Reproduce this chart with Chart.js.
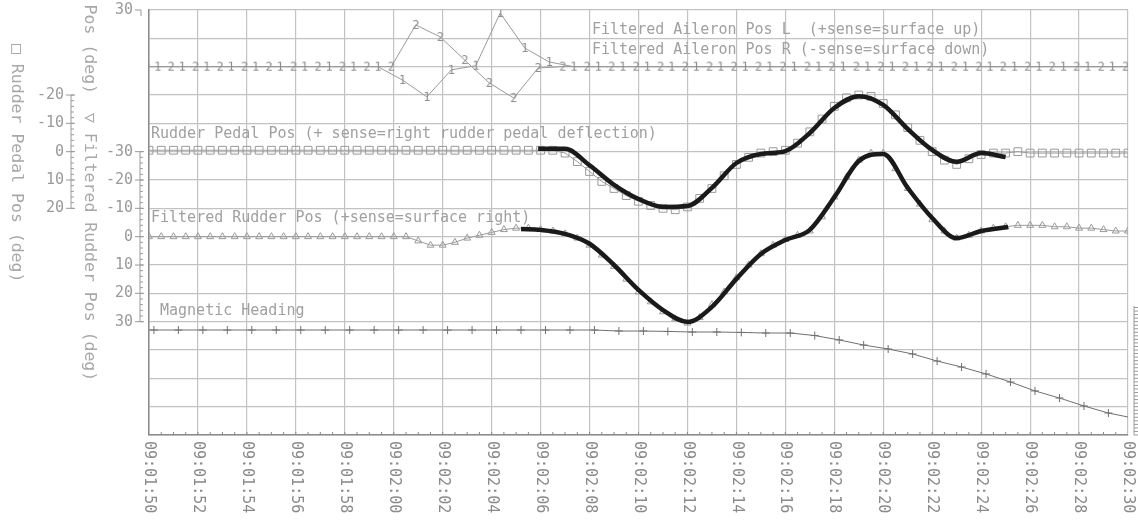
<!DOCTYPE html>
<html>
<head>
<meta charset="utf-8">
<script src="https://cdn.jsdelivr.net/npm/chart.js@4.4.0/dist/chart.umd.min.js"></script>
<style>
  html, body { margin: 0; padding: 0; background: #fff; }
</style>
</head>
<body>
<canvas id="flightChart" width="1138" height="523"></canvas>
<script>
/* ------------------------------------------------
   Rudder / aileron / heading time history
   ------------------------------------------------ */

// x axis: seconds after 09:01:50, labelled every 2 s
const timeLabels = [
    "09:01:50", "09:01:52", "09:01:54", "09:01:56", "09:01:58",
    "09:02:00", "09:02:02", "09:02:04", "09:02:06", "09:02:08",
    "09:02:10", "09:02:12", "09:02:14", "09:02:16", "09:02:18",
    "09:02:20", "09:02:22", "09:02:24", "09:02:26", "09:02:28",
    "09:02:30"
];

// left axis tick labels
const pedalTicks = [-20, -10, 0, 10, 20];
const rudderTicks = [-30, -20, -10, 0, 10, 20, 30];
const aileronTicks = [30];

// raw samples, every 0.5 s from 0 to 40 s
const pedalRaw = [
    -0.5, -0.5, -0.5, -0.5, -0.5, -0.5, -0.5, -0.5, -0.5, -0.5,
    -0.5, -0.5, -0.5, -0.5, -0.5, -0.5, -0.5, -0.5, -0.5, -0.5,
    -0.5, -0.5, -0.5, -0.5, -0.5, -0.5, -0.5, -0.5, -0.5, -0.5,
    -0.5, -0.5,
    -0.5, -0.5, 0.5, 3.5, 7, 10.5, 13, 15.5, 17.5, 19,
    20, 20.5, 19.5, 16.5, 13, 8.5, 4.5, 2, 0.5, 0,
    -0.5, -3, -7, -11.5, -16, -19, -20, -19.5, -17, -13,
    -8.5, -4, 0, 3, 4.5, 2.5, 1, 0.5, 0.5, 0,
    0.5, 0.5, 0.5, 0.5, 0.5, 0.5, 0.5, 0.5, 0.5
];
const rudderRaw = [
    0, 0, 0, 0, 0, 0, 0, 0, 0, 0,
    0, 0, 0, 0, 0, 0, 0, 0, 0, 0,
    0, 0,
    1.5, 3, 3, 2, 0.5, -0.5, -1.5, -2.5, -3, -3,
    -2.5, -2, -1, 0.5, 3, 6.5, 10.5, 15, 19.5, 23,
    26.5, 29, 30.5, 28.5, 24, 19.5, 14.5, 10, 6, 3,
    1, -0.5, -2, -7, -14, -21, -27, -29.5, -29.5, -24,
    -17, -11.5, -6, -2, 0.5, -0.5, -2, -3, -3.5, -4,
    -4, -4, -3.5, -3.5, -3, -3, -2.5, -2, -2
];

// smoothed traces (thick black)
const pedalFitTime = [15.9, 17, 18, 19, 20, 21, 22, 23, 24, 25, 26, 27, 28, 29, 30, 31, 32, 33, 34, 35];
const pedalFit = [-1.0, -1.0, 4.8, 11.7, 16.7, 19.5, 19.2, 12.8, 4.0, 0.8,
                  -0.2, -6.6, -15.4, -19.6, -16.5, -8.0, -0.6, 3.6, 0.5, 1.9];
const rudderFitTime = [15.2, 16, 17, 18, 19, 20, 21, 22, 23, 24, 25, 26, 27, 28, 29, 30, 31, 32, 33, 34, 35.1];
const rudderFit = [-2.7, -2.4, -1.0, 2.5, 10.0, 18.8, 25.9, 30.1, 24.8, 14.9, 6.1,
                   1.2, -2.4, -13.9, -26.7, -29.2, -17.2, -6.6, 0.5, -2.0, -3.4];

// aileron, 1 Hz each, L at k+0.35 s and R at k+0.9 s (k = -1 .. 40)
const aileronL = [
    0, 0, 0, 0, 0, 0, 0, 0, 0, 0, 0,
    -7.0, -16.0, -1.7, 0.5, 28.4, 9.9, 2.5,
    0, 0, 0, 0, 0, 0, 0, 0, 0, 0, 0, 0,
    0, 0, 0, 0, 0, 0, 0, 0, 0, 0, 0, 0
];
const aileronR = [
    0, 0, 0, 0, 0, 0, 0, 0, 0, 0, 0,
    22.1, 15.7, 3.5, -8.6, -16.6, -0.7, 0,
    0, 0, 0, 0, 0, 0, 0, 0, 0, 0, 0, 0,
    0, 0, 0, 0, 0, 0, 0, 0, 0, 0, 0, 0
];

// magnetic heading (deg), 1 Hz at k+0.2 s (k = -1 .. 40)
const heading = [
    275.91, 275.91, 275.91, 275.91, 275.91, 275.91, 275.91, 275.91, 275.91, 275.91,
    275.91, 275.91, 275.91, 275.91, 275.91, 275.91, 275.91, 275.91, 275.91, 275.91,
    275.84, 275.84, 275.81, 275.77, 275.77, 275.74, 275.70, 275.70, 275.52, 275.21,
    274.85, 274.57, 274.22, 273.72, 273.30, 272.81, 272.24, 271.61, 271.11, 270.55,
    270.05, 269.70
];

const MONO = '"DejaVu Sans Mono", "Liberation Mono", monospace';
const GRAY = "#9a9a9a";

function pts(times, values) {
    return values.map((v, i) => ({ x: times[i], y: v }));
}
const halfSec = pedalRaw.map((v, i) => i * 0.5);
const ailLTime = aileronL.map((v, i) => i - 0.65);
const ailRTime = aileronR.map((v, i) => i - 0.1);
const hdgTime = heading.map((v, i) => i - 0.8);

function digitMarker(d) {
    const c = document.createElement("canvas");
    c.width = 10; c.height = 14;
    const g = c.getContext("2d");
    g.font = "12px " + MONO;
    g.fillStyle = "#8c8c8c";
    g.textAlign = "center";
    g.textBaseline = "middle";
    g.fillText(d, 5, 7.5);
    return c;
}

/* text, mini axes and tick labels drawn on top of the library's scales */
const overlay = {
    id: "overlay",
    beforeDatasetsDraw(chart) {
        const ctx = chart.ctx;
        ctx.save();
        ctx.font = "15px " + MONO;
        ctx.fillStyle = "#a0a0a0";
        ctx.textBaseline = "middle";
        ctx.textAlign = "left";
        ctx.fillText("Filtered Aileron Pos L  (+sense=surface up)", 592, 30);
        ctx.fillText("Filtered Aileron Pos R (-sense=surface down)", 592, 50);
        ctx.fillText("Rudder Pedal Pos (+ sense=right rudder pedal deflection)", 151, 134);
        ctx.fillText("Filtered Rudder Pos (+sense=surface right)", 151, 218);
        ctx.fillText("Magnetic Heading", 160, 311);
        ctx.restore();
    },
    afterDraw(chart) {
        const { ctx, chartArea: a, scales } = chart;
        ctx.save();

        // minor ticks along the bottom edge
        ctx.strokeStyle = "#888";
        ctx.lineWidth = 1;
        ctx.beginPath();
        for (let t = 0.5; t < 40; t += 0.5) {
            const x = scales.x.getPixelForValue(t);
            ctx.moveTo(x, a.bottom);
            ctx.lineTo(x, a.bottom - 3);
        }
        ctx.stroke();

        // time labels, rotated to read downwards
        ctx.font = "15px " + MONO;
        ctx.fillStyle = "#8a8a8a";
        ctx.textBaseline = "middle";
        ctx.textAlign = "left";
        scales.x.ticks.forEach((tk, i) => {
            const x = scales.x.getPixelForValue(tk.value);
            ctx.save();
            ctx.translate(x, a.bottom + 6);
            ctx.rotate(Math.PI / 2);
            ctx.fillText(timeLabels[i], 0, 0);
            ctx.restore();
        });

        // small left axes
        function miniAxis(scale, ticks, spineX) {
            const lo = ticks[0], hi = ticks[ticks.length - 1];
            ctx.strokeStyle = GRAY;
            ctx.lineWidth = 1;
            ctx.beginPath();
            ctx.moveTo(spineX, scale.getPixelForValue(lo));
            ctx.lineTo(spineX, scale.getPixelForValue(hi));
            for (let v = lo; v <= hi; v += 2) {
                const y = scale.getPixelForValue(v);
                ctx.moveTo(spineX, y);
                ctx.lineTo(spineX + 3, y);
            }
            ticks.forEach(v => {
                const y = scale.getPixelForValue(v);
                ctx.moveTo(spineX - 5, y);
                ctx.lineTo(spineX + 4, y);
            });
            ctx.stroke();
            ctx.textAlign = "right";
            ticks.forEach(v => {
                ctx.fillText(String(v), spineX - 7, scale.getPixelForValue(v));
            });
        }
        ctx.fillStyle = "#9a9a9a";
        miniAxis(scales.yPedal, pedalTicks, 71);
        miniAxis(scales.yRudder, rudderTicks, 140);

        // aileron axis: only its top label is in view
        ctx.textAlign = "right";
        aileronTicks.forEach(v => {
            const y = scales.yAil.getPixelForValue(v);
            ctx.fillText(String(v), 133, y);
            ctx.beginPath();
            ctx.moveTo(135, y); ctx.lineTo(141, y); ctx.lineTo(141, y + 6);
            ctx.stroke();
        });

        // heading axis at the right edge, cut off by the frame
        ctx.beginPath();
        const hx = 1134;
        ctx.moveTo(hx, scales.yHdg.getPixelForValue(277.6));
        ctx.lineTo(hx, a.bottom);
        for (let v = 268.5; v <= 277.6; v += 0.25) {
            const y = scales.yHdg.getPixelForValue(v);
            ctx.moveTo(hx, y); ctx.lineTo(hx + 4, y);
        }
        ctx.stroke();

        // axis titles, rotated to read downwards
        ctx.font = "16.5px " + MONO;
        ctx.fillStyle = "#a8a8a8";
        function vtext(str, x, y, align) {
            ctx.save();
            ctx.translate(x, y);
            ctx.rotate(Math.PI / 2);
            ctx.textAlign = align;
            ctx.fillText(str, 0, 0);
            ctx.restore();
        }
        vtext("\u25A1 Rudder Pedal Pos (deg)", 16, 44, "left");
        vtext("Filtered Aileron Pos (deg)", 89, 94, "right");
        vtext("\u25BD Filtered Rudder Pos (deg)", 89, 113, "left");

        ctx.restore();
    }
};

const gridStyle = { color: "#c2c2c2", lineWidth: 1.2, drawTicks: false };

new Chart(document.getElementById("flightChart"), {
    type: "line",
    data: {
        datasets: [
            {
                label: "Rudder Pedal Pos (fit)",
                data: pts(pedalFitTime, pedalFit),
                yAxisID: "yPedal",
                borderColor: "#1a1a1a",
                borderWidth: 4.5,
                pointRadius: 0,
                cubicInterpolationMode: "monotone"
            },
            {
                label: "Filtered Rudder Pos (fit)",
                data: pts(rudderFitTime, rudderFit),
                yAxisID: "yRudder",
                borderColor: "#1a1a1a",
                borderWidth: 4.5,
                pointRadius: 0,
                cubicInterpolationMode: "monotone"
            },
            {
                label: "Rudder Pedal Pos",
                data: pts(halfSec, pedalRaw),
                yAxisID: "yPedal",
                borderColor: GRAY,
                borderWidth: 1,
                pointStyle: "rect",
                pointRadius: 5.5,
                pointBorderColor: GRAY,
                pointBackgroundColor: "rgba(0,0,0,0)",
                pointBorderWidth: 1,
                tension: 0
            },
            {
                label: "Filtered Rudder Pos",
                data: pts(halfSec, rudderRaw),
                yAxisID: "yRudder",
                borderColor: GRAY,
                borderWidth: 1,
                pointStyle: "triangle",
                pointRadius: 4,
                pointBorderColor: GRAY,
                pointBackgroundColor: "rgba(0,0,0,0)",
                pointBorderWidth: 1,
                tension: 0
            },
            {
                label: "Filtered Aileron Pos L",
                data: pts(ailLTime, aileronL),
                yAxisID: "yAil",
                borderColor: GRAY,
                borderWidth: 1,
                pointStyle: digitMarker("1"),
                tension: 0
            },
            {
                label: "Filtered Aileron Pos R",
                data: pts(ailRTime, aileronR),
                yAxisID: "yAil",
                borderColor: GRAY,
                borderWidth: 1,
                pointStyle: digitMarker("2"),
                tension: 0
            },
            {
                label: "Magnetic Heading",
                data: pts(hdgTime, heading),
                yAxisID: "yHdg",
                borderColor: "#707070",
                borderWidth: 1,
                pointStyle: "cross",
                pointRadius: 4,
                pointBorderColor: "#707070",
                pointBorderWidth: 1,
                tension: 0
            }
        ]
    },
    options: {
        responsive: false,
        animation: false,
        devicePixelRatio: 1,
        layout: { padding: { left: 149, top: 10, right: 10, bottom: 88 } },
        scales: {
            x: {
                type: "linear",
                min: 0,
                max: 40,
                ticks: { stepSize: 2, display: false },
                grid: gridStyle,
                border: { display: true, color: "#8a8a8a", width: 1.5 }
            },
            yPedal: {
                type: "linear",
                position: "left",
                reverse: true,
                min: -50,
                max: 100,
                ticks: { stepSize: 10, display: false },
                grid: gridStyle,
                border: { display: true, color: "#8a8a8a", width: 1.5 }
            },
            yRudder: { type: "linear", display: false, reverse: true, min: -80, max: 70 },
            yAil: { type: "linear", display: false, min: -195, max: 30 },
            yHdg: { type: "linear", display: false, min: 268.5, max: 298.5 }
        },
        plugins: {
            legend: { display: false },
            tooltip: { enabled: false }
        }
    },
    plugins: [overlay]
});
</script>
</body>
</html>
